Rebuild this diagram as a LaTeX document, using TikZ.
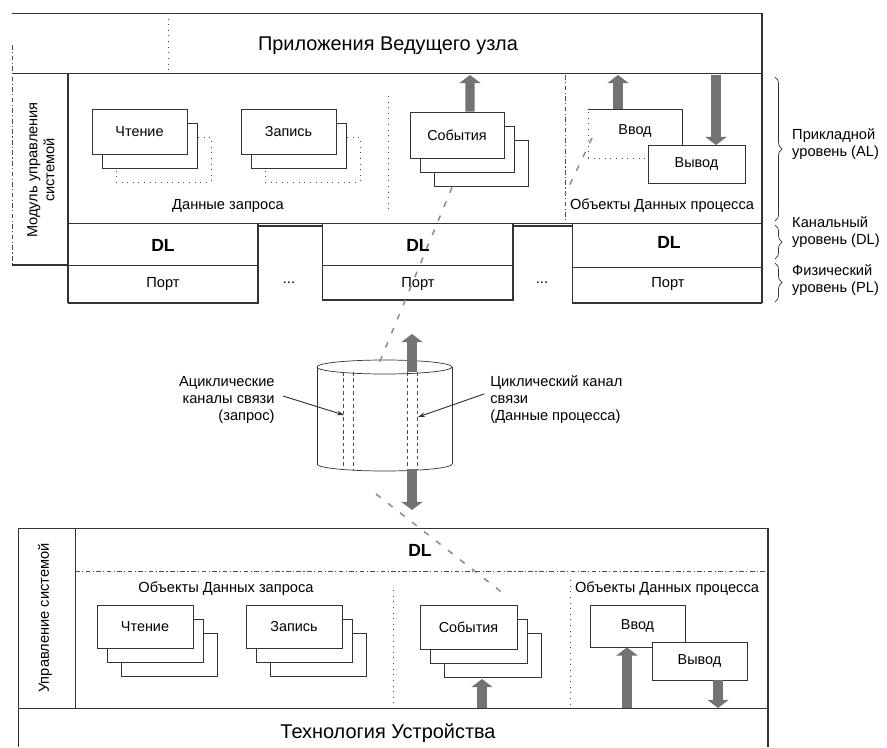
\documentclass[tikz,border=0pt]{standalone}
\usepackage{fontspec}
\setmainfont{Liberation Sans}
\usetikzlibrary{arrows.meta,decorations.pathreplacing,calc}
\newcommand\stk[8]{%
  \draw[#8,fill=white] (#2+24,#3+28) rectangle (#4+24,#5+28);
  \draw[ln,fill=white] (#2+10,#3+14) rectangle (#4+10,#5+14);
  \node[sbox,minimum width={(#4-#2)*0.03cm},minimum height={(#5-#3)*0.03cm}] (#1) at ({(#2+#4)/2},{(#3+#5)/2}) {#6};}
\begin{document}
\begin{tikzpicture}[x=0.03cm,y=-0.03cm,
  ln/.style={draw=black!80,line width=0.6pt},
  thk/.style={draw=black!80,line width=1.8pt},
  dotl/.style={draw=black!70,line width=0.7pt,dash pattern=on 0.8pt off 4pt},
  dashdotl/.style={draw=black!70,line width=0.6pt,dash pattern=on 4pt off 2pt on 1pt off 2pt},
  sbox/.style={draw=black!80,line width=0.6pt,fill=white,inner sep=0pt,font=\fontsize{12.3}{14}\selectfont},
  txt/.style={font=\fontsize{12.5}{14.5}\selectfont,inner sep=1pt},
  big/.style={font=\fontsize{17}{19}\selectfont,inner sep=1pt},
  dl/.style={font=\fontsize{15}{17}\selectfont\bfseries,inner sep=1pt},
  garrow/.style={draw=black!55,line width=8pt,-{Triangle[width=18pt,length=7pt]}},
  gdash/.style={draw=black!45,line width=1.3pt,dash pattern=on 5pt off 8pt},
  brc/.style={draw=black!80,line width=0.6pt,decorate,decoration={brace,amplitude=6pt}},
  side/.style={font=\fontsize{12.5}{14.5}\selectfont,align=left,anchor=west,inner sep=0pt},
  pt/.style={-{Stealth[length=6pt,width=4pt]},draw=black!80,line width=0.8pt}]
\useasboundingbox (0,0) rectangle (887,747);

% ===== upper station =====
\draw[ln] (12,13) -- (762,13);
\draw[dotl] (168,13) -- (168,73);
\draw[ln] (12,73) -- (762,73);
\draw[dashdotl] (12,45) -- (12,265);
\draw[thk] (12,265) -- (68,265);
\draw[thk] (68,73) -- (68,303);
\node[big] (host) at (388,46) {Приложения Ведущего узла};
\node[txt,rotate=90,align=center] (mod) at (41,170) {Модуль управления\\системой};
\draw[ln] (68,223) -- (762,223);
\draw[thk] (762,13) -- (762,303);
% DL / port blocks
\draw[thk] (258,223) -- (258,303) -- (68,303);
\draw[ln] (68,265) -- (258,265);
\draw[thk] (258,226) -- (322,226);
\draw[ln] (322,223) -- (322,300);
\draw[thk] (513,223) -- (513,300) -- (322,300);
\draw[ln] (322,265) -- (513,265);
\draw[thk] (513,226) -- (572,226);
\draw[ln] (572,223) -- (572,303);
\draw[thk] (572,303) -- (762,303);
\draw[ln] (572,267) -- (762,267);
\node[dl] (dl1) at (163,245) {DL};
\node[dl] (dl2) at (418,245) {DL};
\node[dl] (dl3) at (669,242) {DL};
\node[txt] (p1) at (163,284) {Порт};
\node[txt] (p2) at (418,284) {Порт};
\node[txt] (p3) at (668,284) {Порт};
\node[txt] (e1) at (289,283) {...};
\node[txt] (e2) at (542,283) {...};
% application layer
\draw[dotl] (388,96) -- (388,212);
\draw[dashdotl] (565,75) -- (565,223);
\stk{rd1}{92}{109}{187}{154}{Чтение}{}{dotl}
\stk{wr1}{241}{109}{336}{154}{Запись}{}{dotl}
\stk{ev1}{410}{112}{504}{158}{События}{}{ln}
\node[txt] (rq1) at (228,206) {Данные запроса};
\node[txt] (pd1) at (662,206) {Объекты Данных процесса};
\draw[dotl] (588,158) -- (588,109);
\draw[ln] (588,109) -- (682,109) -- (682,145);
\draw[dotl] (588,158) -- (648,158);
\node[inner sep=0pt] (in1) at (635,131) {};
\node[sbox,draw=none,fill=none] at (in1) {Ввод};
\node[sbox,minimum width=2.91cm,minimum height=1.14cm] (out1) at (696.5,164) {Вывод};
\coordinate (h1) at (470,75);
\coordinate (h2) at (618,75);
\coordinate (h3) at (716,75);
\draw[garrow] ([xshift=0.39cm]ev1.north) -- (h1);
\draw[garrow] (618,109) -- (h2);
\draw[garrow] (h3) -- (716,145);
\draw[gdash] (592,138) -- (565,195);
% braces
\draw[brc] (775,77) -- (775,221);
\draw[brc] (775,225) -- (775,259);
\draw[brc] (775,263) -- (775,302);
\node[side] (al) at (792,144) {Прикладной\\уровень (AL)};
\node[side] (dll) at (792,232) {Канальный\\уровень (DL)};
\node[side] (pl) at (792,280) {Физический\\уровень (PL)};

% ===== medium (cylinder) =====
\coordinate (cyl) at (384.5,415);
\draw[ln] (384.5,367) ellipse [x radius=2.025cm, y radius=0.21cm];
\draw[ln] (317,367) -- (317,464);
\draw[ln] (452,367) -- (452,464);
\draw[ln] (317,464) arc[start angle=180,end angle=360,x radius=2.025cm,y radius=0.21cm];
\foreach \xx in {343,353,407,417} \draw[draw=black!70,line width=0.5pt,dash pattern=on 3pt off 2.5pt] (\xx,372) -- (\xx,469);
\coordinate (ct) at (412,334);
\coordinate (cb) at (412,510);
\draw[garrow] (412,372) -- (ct);
\draw[garrow] (412,469) -- (cb);
\node[txt,align=right,anchor=east] (acy) at (276,400) {Ациклические\\каналы связи\\(запрос)};
\node[txt,align=left,anchor=west] (cyc) at (489,400) {Циклический канал\\связи\\(Данные процесса)};
\coordinate (acyT) at (344,415);
\coordinate (cycT) at (418,417);
\draw[pt] (283,396) -- (acyT);
\draw[pt] (484,394) -- (cycT);
\draw[gdash] ($(ev1.south)+(-5,29)$) -- (378,366);

% ===== lower device =====
\draw[ln] (18,528) -- (768,528);
\draw[ln] (18,528) -- (18,747);
\draw[ln] (75,528) -- (75,708);
\draw[ln] (18,708) -- (768,708);
\draw[thk] (768,528) -- (768,747);
\draw[dashdotl] (75,571) -- (768,571);
\draw[dotl] (393,590) -- (393,708);
\draw[dotl] (570,580) -- (570,708);
\node[txt,rotate=90] (ctl) at (45,618) {Управление системой};
\node[dl] (dl4) at (420,550) {DL};
\node[txt] (rq2) at (226,589) {Объекты Данных запроса};
\node[txt] (pd2) at (667,589) {Объекты Данных процесса};
\stk{rd2}{97}{605}{193}{648}{Чтение}{}{ln}
\stk{wr2}{246}{605}{342}{648}{Запись}{}{ln}
\stk{ev2}{420}{605}{517}{649}{События}{}{ln}
\draw[gdash] (376,494) -- ($(ev2.north east)+(-10,-8)$);
\node[sbox,minimum width=2.85cm,minimum height=1.26cm] (in2) at (637.5,626) {Ввод};
\node[sbox,minimum width=2.85cm,minimum height=1.14cm] (out2) at (699.5,661) {Вывод};
\node[big] (dev) at (388,733) {Технология Устройства};
\coordinate (b1) at (482,708);
\coordinate (b2) at (627,708);
\coordinate (b3) at (718,708);
\draw[garrow] (b1) -- (482,679);
\draw[garrow] (b2) -- (in2.south -| b2);
\draw[garrow] (out2.south -| b3) -- (b3);
\end{tikzpicture}
\end{document}
